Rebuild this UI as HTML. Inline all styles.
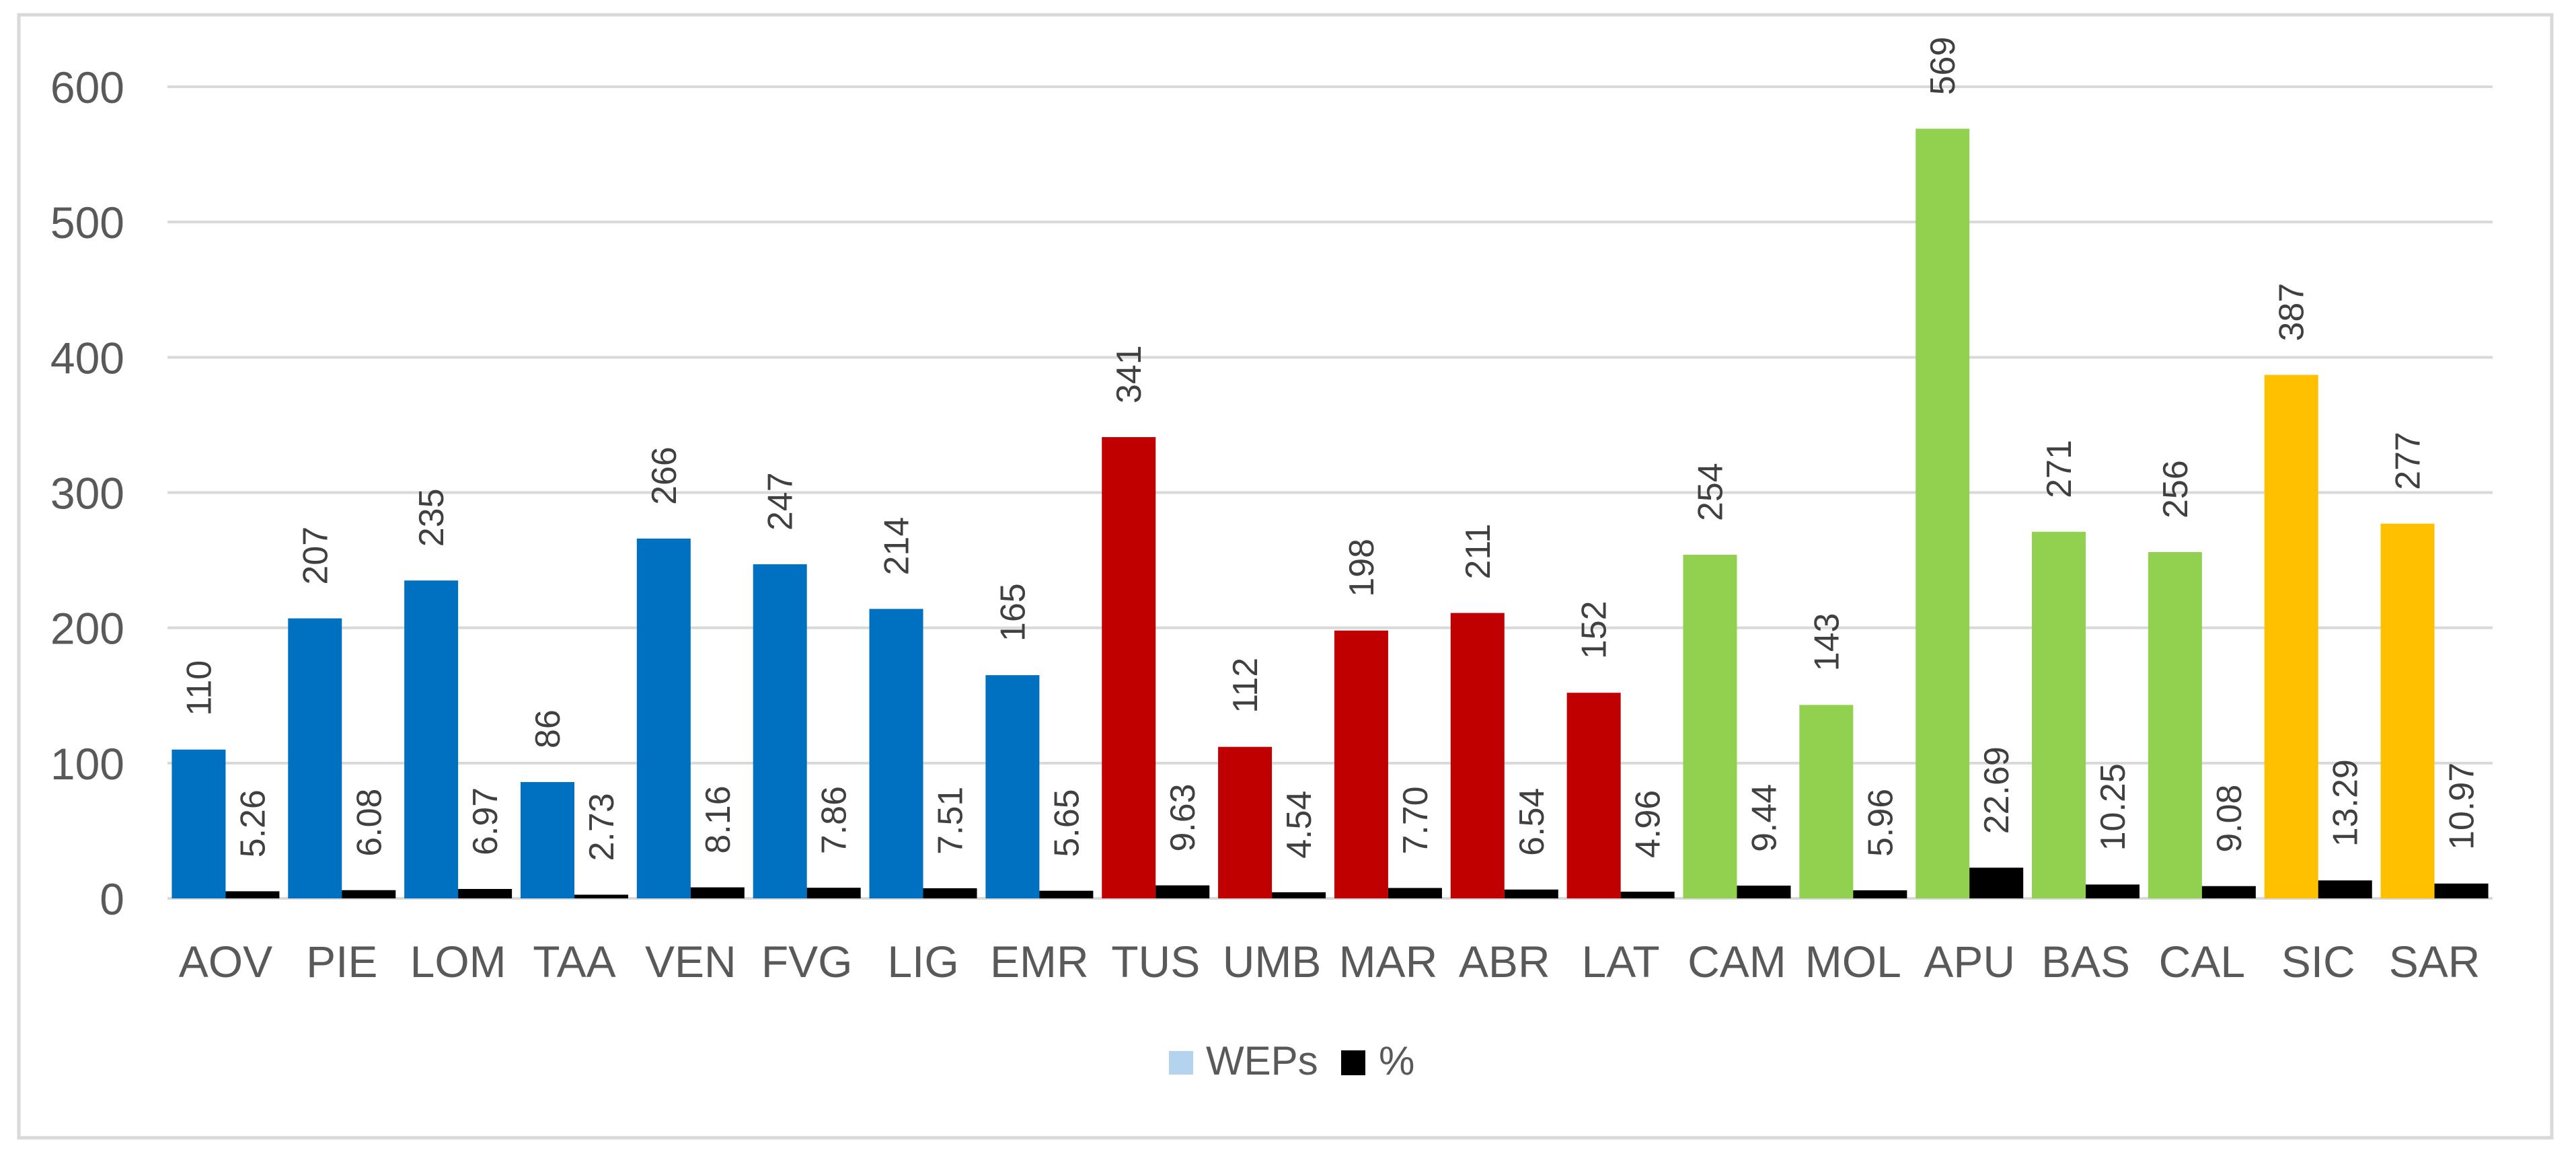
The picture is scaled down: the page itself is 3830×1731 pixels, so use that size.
<!DOCTYPE html>
<html><head><meta charset="utf-8"><style>
html,body{margin:0;padding:0;background:#fff;}
svg{display:block;font-family:"Liberation Sans",sans-serif;}
</style></head><body>
<svg id="chart" width="3830" height="1731" viewBox="0 0 3830 1731" xmlns="http://www.w3.org/2000/svg">
<rect x="28" y="22" width="3766" height="1670" fill="#fff" stroke="#d9d9d9" stroke-width="5"/>
<g id="grid"></g><g id="bars"></g><g id="labels"></g>
<g>
<rect x="1738" y="1563" width="36" height="35" fill="#b4d3ee"/>
<text x="1793" y="1598" font-size="60" fill="#595959">WEPs</text>
<rect x="1994" y="1562" width="36" height="37" fill="#000"/>
<text x="2050" y="1598" font-size="60" fill="#595959">%</text>
</g>
</svg>
<script>
const categories=["AOV","PIE","LOM","TAA","VEN","FVG","LIG","EMR","TUS","UMB","MAR","ABR","LAT","CAM","MOL","APU","BAS","CAL","SIC","SAR"];
const weps=[110,207,235,86,266,247,214,165,341,112,198,211,152,254,143,569,271,256,387,277];
const pct=[5.26,6.08,6.97,2.73,8.16,7.86,7.51,5.65,9.63,4.54,7.70,6.54,4.96,9.44,5.96,22.69,10.25,9.08,13.29,10.97];
const pctLabels=["5.26","6.08","6.97","2.73","8.16","7.86","7.51","5.65","9.63","4.54","7.70","6.54","4.96","9.44","5.96","22.69","10.25","9.08","13.29","10.97"];
const areaGroup=["N","N","N","N","N","N","N","N","C","C","C","C","C","S","S","S","S","S","I","I"];
const yTicks=[0,100,200,300,400,500,600];
const colors={N:"#0070c0",C:"#c00000",S:"#92d050",I:"#ffc000"};
const NS="http://www.w3.org/2000/svg";
const plotL=249,plotR=3706,y0=1336,y600=129;
const y=v=>y0-(v/600)*(y0-y600);
const band=(plotR-plotL)/categories.length;
const x=i=>plotL+i*band;
function mk(tag,attrs,parent){const e=document.createElementNS(NS,tag);for(const k in attrs)e.setAttribute(k,attrs[k]);parent.appendChild(e);return e;}
const grid=document.getElementById('grid'),bars=document.getElementById('bars'),labels=document.getElementById('labels');
yTicks.forEach(t=>{
 const l=mk('line',{x1:plotL,x2:plotR,y1:y(t),y2:y(t),stroke:'#d9d9d9','stroke-width':4},grid);
 
 
 const tx=mk('text',{x:185,y:y(t)+24,'font-size':66,fill:'#595959','text-anchor':'end'},grid);
 tx.textContent=t;
 
 
});
const bw=80,off=(band-2*bw)/2;
categories.forEach((c,i)=>{
 const bx=x(i)+off;
 const b1=mk('rect',{x:bx,y:y(weps[i]),width:bw,height:y0-y(weps[i]),fill:colors[areaGroup[i]]},bars);
 
 
 const b2=mk('rect',{x:bx+bw,y:y(pct[i]),width:bw,height:y0-y(pct[i]),fill:'#000'},bars);
 
 
 const cx1=bx+bw/2+18,cy1=y(weps[i])-50;
 const t1=mk('text',{x:cx1,y:cy1,'font-size':52,fill:'#404040',transform:`rotate(-90 ${cx1} ${cy1})`},labels);
 t1.textContent=weps[i];
 
 
 const cx2=bx+bw*1.5+18,cy2=y(pct[i])-50;
 const t2=mk('text',{x:cx2,y:cy2,'font-size':52,fill:'#404040',transform:`rotate(-90 ${cx2} ${cy2})`},labels);
 t2.textContent=pctLabels[i];
 
 
 const xl=mk('text',{x:bx+bw,y:1453,'font-size':66,fill:'#595959','text-anchor':'middle'},labels);
 xl.textContent=c;
 
 
});
</script>
</body></html>
